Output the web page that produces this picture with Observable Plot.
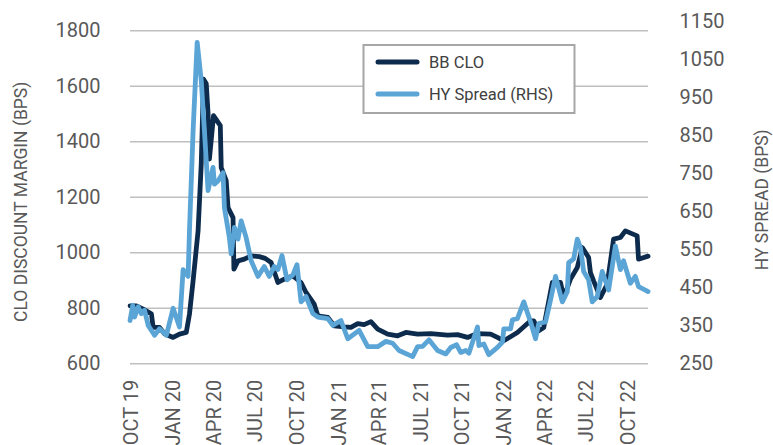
<!DOCTYPE html>
<html>
<head>
<meta charset="utf-8">
<script src="https://cdn.jsdelivr.net/npm/d3@7"></script>
<script src="https://cdn.jsdelivr.net/npm/@observablehq/plot@0.6"></script>
<style>
  html, body { margin: 0; padding: 0; background: #fff; }
  #chart { width: 773px; height: 445px; overflow: hidden; }
</style>
</head>
<body>
<div id="chart"></div>
<script>
// ---- Data ----
const cloDates = ["2019-09-28","2019-10-12","2019-10-27","2019-11-14","2019-11-18","2019-12-02","2019-12-13","2020-01-01","2020-01-15","2020-01-30","2020-02-06","2020-02-14","2020-02-25","2020-03-03","2020-03-08","2020-03-14","2020-03-18","2020-03-21","2020-03-30","2020-04-14","2020-04-16","2020-04-27","2020-05-01","2020-05-12","2020-05-14","2020-05-23","2020-06-06","2020-06-21","2020-07-09","2020-07-22","2020-08-04","2020-08-19","2020-09-02","2020-09-21","2020-10-09","2020-10-20","2020-11-07","2020-11-15","2020-12-07","2020-12-21","2021-01-12","2021-01-27","2021-02-11","2021-02-25","2021-03-12","2021-03-27","2021-04-18","2021-05-10","2021-05-28","2021-06-23","2021-07-22","2021-08-28","2021-09-19","2021-10-11","2021-11-02","2021-12-01","2021-12-16","2021-12-30","2022-01-29","2022-02-27","2022-03-06","2022-03-17","2022-03-28","2022-04-16","2022-05-04","2022-05-11","2022-05-26","2022-06-10","2022-06-21","2022-07-05","2022-07-09","2022-07-16","2022-07-31","2022-08-15","2022-08-29","2022-09-13","2022-09-24","2022-10-20","2022-10-23","2022-11-13"];
const cloBps = [809,809,797,780,731,731,708,695,707,713,779,899,1079,1321,1626,1609,1501,1338,1494,1458,1307,1260,1163,1127,941,971,977,989,986,980,965,893,905,917,893,857,815,773,767,737,733,731,745,741,752,725,707,701,713,707,709,703,705,695,709,707,695,683,713,755,755,719,731,893,893,839,905,947,1019,983,929,899,839,887,1049,1055,1079,1061,977,988];

const hyDates = ["2019-09-28","2019-10-04","2019-10-08","2019-10-16","2019-10-23","2019-10-30","2019-11-07","2019-11-21","2019-12-02","2019-12-17","2020-01-01","2020-01-15","2020-01-23","2020-02-03","2020-02-06","2020-02-14","2020-02-23","2020-03-03","2020-03-10","2020-03-18","2020-03-29","2020-04-01","2020-04-09","2020-04-20","2020-04-23","2020-05-04","2020-05-08","2020-05-15","2020-05-23","2020-05-30","2020-06-10","2020-06-21","2020-07-06","2020-07-20","2020-07-31","2020-08-11","2020-08-19","2020-08-28","2020-09-08","2020-09-21","2020-09-30","2020-10-09","2020-10-20","2020-11-04","2020-11-15","2020-12-07","2020-12-18","2021-01-05","2021-01-20","2021-02-14","2021-03-05","2021-03-27","2021-04-14","2021-04-29","2021-05-13","2021-06-12","2021-06-23","2021-07-04","2021-07-18","2021-08-06","2021-08-24","2021-09-04","2021-09-17","2021-09-26","2021-10-07","2021-10-14","2021-11-02","2021-11-05","2021-11-16","2021-11-27","2021-12-16","2021-12-27","2021-12-30","2022-01-14","2022-01-18","2022-01-29","2022-02-12","2022-02-27","2022-03-10","2022-03-17","2022-04-01","2022-04-12","2022-04-23","2022-05-08","2022-05-19","2022-05-22","2022-06-02","2022-06-10","2022-06-17","2022-06-24","2022-07-05","2022-07-13","2022-07-24","2022-08-04","2022-08-18","2022-09-02","2022-09-13","2022-09-20","2022-10-05","2022-10-16","2022-10-23","2022-11-07","2022-11-13"];
const hyBps = [364,404,373,400,382,391,351,325,342,325,396,347,498,480,600,863,1096,995,863,706,767,723,731,753,661,582,539,609,578,626,582,521,480,506,480,506,498,535,471,484,511,413,427,382,373,369,351,364,316,338,295,295,309,304,285,269,295,296,313,285,276,293,300,280,285,278,347,298,302,274,293,307,342,342,366,369,413,360,316,356,360,418,480,413,440,516,526,578,556,493,471,413,427,493,444,560,498,521,462,480,453,444,440];

const leftTicks = [600, 800, 1000, 1200, 1400, 1600, 1800];
const rightTicks = [250, 350, 450, 550, 650, 750, 850, 950, 1050, 1150];
const xTickDates = ["2019-10-01","2020-01-01","2020-04-01","2020-07-01","2020-10-01","2021-01-01","2021-04-01","2021-07-01","2021-10-01","2022-01-01","2022-04-01","2022-07-01","2022-10-01"];
const xTickLabels = ["OCT 19","JAN 20","APR 20","JUL 20","OCT 20","JAN 21","APR 21","JUL 21","OCT 21","JAN 22","APR 22","JUL 22","OCT 22"];

const seriesNames = ["BB CLO", "HY Spread (RHS)"];
const seriesColors = ["#0d2b4c", "#5aa4d6"];

// ---- Build ----
const parse = d3.utcParse("%Y-%m-%d");
const fmt = d3.utcFormat("%Y-%m-%d");
const clo = cloDates.map((d, i) => ({date: parse(d), v: cloBps[i]}));
const hy = hyDates.map((d, i) => ({date: parse(d), v: hyBps[i]}));

// right axis (250..1150) expressed in left-axis units (600..1832.4)
const leftTop = 1832.4;
const ratio = (leftTop - 600) / (1150 - 250);
const toLeft = v => 600 + (v - 250) * ratio;
const fromLeft = d => Math.round((d - 600) / ratio + 250);

const font = "Roboto, 'Noto Sans', sans-serif";
const tickColor = "#595959";

const plot = Plot.plot({
  width: 773,
  height: 445,
  marginLeft: 130,
  marginRight: 125,
  marginTop: 21.3,
  marginBottom: 81.7,
  style: {fontFamily: font, background: "#fff", overflow: "visible"},
  x: {type: "utc", domain: [parse("2019-09-29"), parse("2022-11-14")]},
  y: {domain: [600, leftTop]},
  marks: [
    Plot.ruleY(leftTicks, {stroke: "#bfbfbf", strokeWidth: 1.6}),
    Plot.axisY(leftTicks, {anchor: "left", tickSize: 0, tickPadding: 30, fontSize: 20, fill: tickColor, label: null, tickFormat: d => String(d)}),
    Plot.axisY(rightTicks.map(toLeft), {anchor: "right", tickSize: 0, tickPadding: 31, fontSize: 20, fill: tickColor, label: null, tickFormat: d => String(fromLeft(d))}),
    Plot.axisX(xTickDates.map(parse), {anchor: "bottom", tickSize: 0, tickPadding: 16, tickRotate: -90, fontSize: 20, fill: tickColor, label: null, tickFormat: d => xTickLabels[xTickDates.indexOf(fmt(d))]}),
    Plot.line(clo, {x: "date", y: "v", stroke: seriesColors[0], strokeWidth: 4.8, strokeLinejoin: "round", strokeLinecap: "round"}),
    Plot.line(hy, {x: "date", y: d => toLeft(d.v), stroke: seriesColors[1], strokeWidth: 4.8, strokeLinejoin: "round", strokeLinecap: "round"}),
    Plot.text(["CLO DISCOUNT MARGIN (BPS)"], {frameAnchor: "left", dx: -109, dy: 9, rotate: -90, textAnchor: "middle", fontSize: 17.5, fill: tickColor}),
    Plot.text(["HY SPREAD (BPS)"], {frameAnchor: "right", dx: 114, dy: 7, rotate: -90, textAnchor: "middle", fontSize: 17.5, fill: tickColor})
  ]
});

// legend box drawn into the same SVG
const svg = d3.select(plot);
const lg = svg.append("g").attr("font-family", font).attr("text-anchor", "start");
lg.append("rect").attr("x", 363.5).attr("y", 45).attr("width", 211).attr("height", 68)
  .attr("fill", "#fff").attr("stroke", "#a6a6a6").attr("stroke-width", 2);
seriesNames.forEach((name, i) => {
  const y = 62 + i * 32;
  lg.append("line").attr("x1", 378).attr("x2", 417).attr("y1", y).attr("y2", y)
    .attr("stroke", seriesColors[i]).attr("stroke-width", 5).attr("stroke-linecap", "round");
  lg.append("text").attr("x", 429).attr("y", y).attr("dy", "0.35em")
    .attr("text-anchor", "start")
    .attr("font-size", 16.5).attr("fill", "#404040").text(name);
});

document.getElementById("chart").appendChild(plot);
</script>
</body>
</html>
